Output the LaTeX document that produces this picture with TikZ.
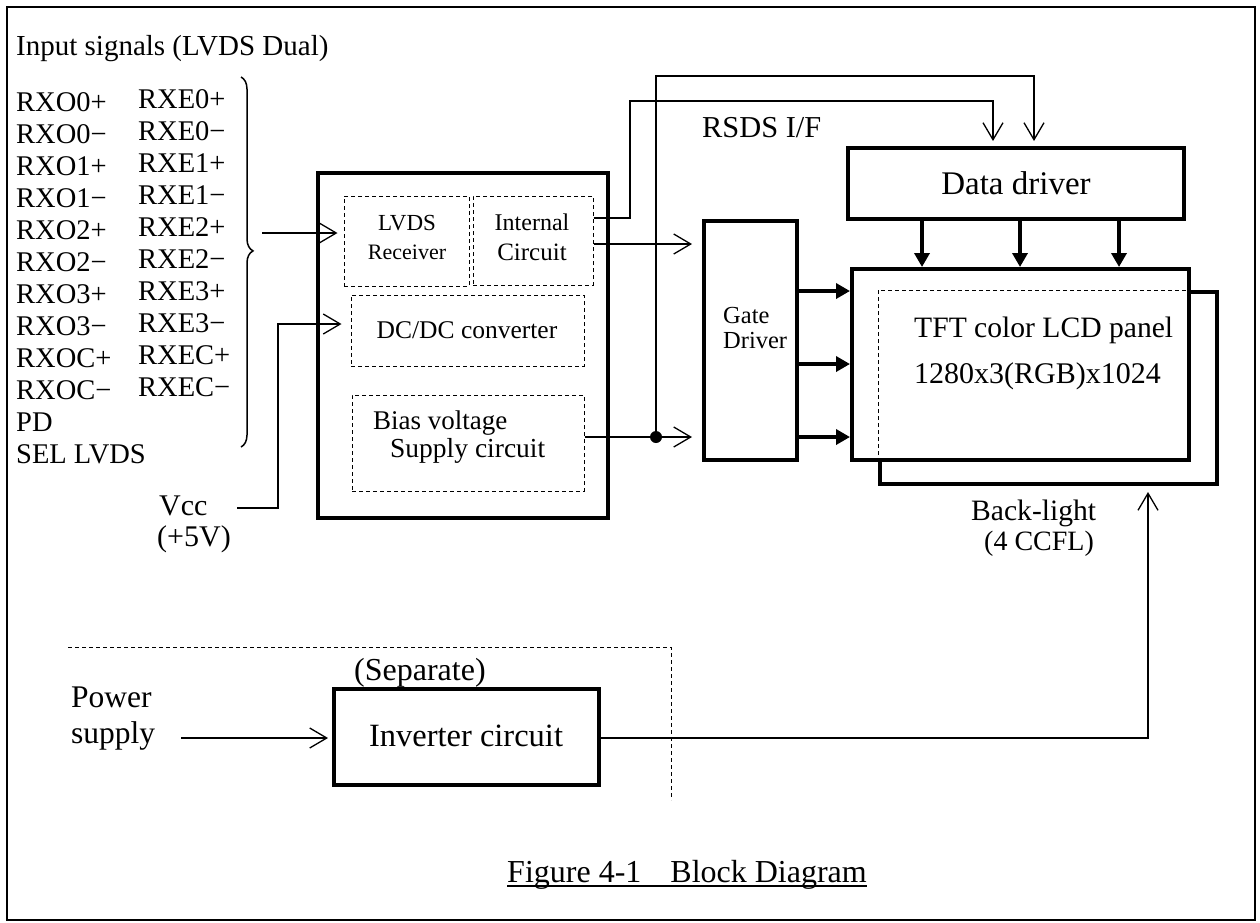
\documentclass[tikz,border=0pt]{standalone}
\usepackage{fontspec}
\setmainfont{Liberation Serif}
\usetikzlibrary{arrows.meta,decorations.pathreplacing,calc}
\newcommand\fsz[1]{\fontsize{#1}{#1}\selectfont}
\begin{document}
\begin{tikzpicture}[x=1pt,y=-1pt,
  lbl/.style={inner sep=0pt, font=\fsz{29}},
  tbox/.style={draw, line width=4pt, inner sep=0pt, fill=white},
  dbox/.style={draw, line width=1pt, dash pattern=on 4pt off 3pt, inner sep=0pt},
  conn/.style={line width=1.3pt},
  oarr/.style={conn, -{Straight Barb[length=17pt,width=20pt]}},
  tarr/.style={line width=4pt, -{Triangle[length=14pt,width=15pt]}},
  dline/.style={line width=1pt, dash pattern=on 4pt off 3pt}]
\useasboundingbox (0,0) rectangle (1260,922);
\draw[line width=2.5pt] (7,7) rectangle (1255,920);

% input signal list
\node[lbl, anchor=base west] (title) at (16,55) {Input signals (LVDS Dual)};
\foreach \t [count=\i] in {RXO0+,RXO0−,RXO1+,RXO1−,RXO2+,RXO2−,RXO3+,RXO3−,RXOC+,RXOC−,PD,SEL LVDS}
  \node[lbl, font=\fsz{28.5}, anchor=base west] (o\i) at (16,{111+32*(\i-1)}) {\t};
\foreach \t [count=\i] in {RXE0+,RXE0−,RXE1+,RXE1−,RXE2+,RXE2−,RXE3+,RXE3−,RXEC+,RXEC−}
  \node[lbl, font=\fsz{28.5}, anchor=base west] (e\i) at (138,{108+32*(\i-1)}) {\t};
\coordinate (br1) at (241,77);
\coordinate (br2) at (241,447);
\draw[line width=1.5pt, decorate, decoration={brace, amplitude=12pt, aspect=0.47}] (br1) -- (br2);

% controller block
\node[tbox, minimum width=290pt, minimum height=345pt] (main) at (463,345.5) {};
\node[dbox, minimum width=125pt, minimum height=90pt] (lvds) at (406.5,241) {};
\node[dbox, minimum width=120pt, minimum height=89pt] (int) at (533,240.5) {};
\node[dbox, minimum width=233pt, minimum height=71pt] (dc) at (467.5,330.5) {};
\node[dbox, minimum width=232pt, minimum height=96pt] (bias) at (468,443) {};
\node[lbl, font=\fsz{23}, anchor=base] (tlvds) at (407,230) {LVDS};
\node[lbl, font=\fsz{22}, anchor=base] (trcv) at (407,259) {Receiver};
\node[lbl, font=\fsz{24}, anchor=base] (tint) at (532,230) {Internal};
\node[lbl, font=\fsz{25}, anchor=base] (tcir) at (532,260) {Circuit};
\node[lbl, font=\fsz{25.5}, anchor=base] (tdc) at (467,338) {DC/DC converter};
\node[lbl, font=\fsz{27}, anchor=base west] (tb1) at (373,429) {Bias voltage};
\node[lbl, font=\fsz{27.5}, anchor=base west] (tb2) at (390,457) {Supply circuit};

% Vcc
\node[lbl, font=\fsz{30}, anchor=base west] (tvcc) at (159,515) {Vcc};
\node[lbl, font=\fsz{30}, anchor=base west] (tv5) at (157,546) {(+5V)};

% gate driver
\node[tbox, minimum width=93pt, minimum height=239pt] (gate) at (750.5,340.5) {};
\node[lbl, font=\fsz{24.5}, anchor=base west] (tg1) at (723,323) {Gate};
\node[lbl, font=\fsz{24.5}, anchor=base west] (tg2) at (723,348) {Driver};

% data driver
\node[tbox, minimum width=336pt, minimum height=71pt] (data) at (1016,183.5) {};
\node[lbl, font=\fsz{33}, anchor=base] (tdata) at (1016,194) {Data driver};
\node[lbl, font=\fsz{30.4}, anchor=base west] (trsds) at (702,137) {RSDS I/F};

% backlight and panel
\node[draw, line width=4pt, inner sep=0pt, minimum width=337pt, minimum height=192pt] (bl) at (1048.5,388) {};
\node[tbox, minimum width=337pt, minimum height=191pt] (panel) at (1020.5,364.5) {};
\draw[dline] (bl.north west |- panel.south) -- (bl.north west) -- (bl.north west -| panel.east);
\node[lbl, font=\fsz{29.6}, anchor=base west] (tp1) at (914,337) {TFT color LCD panel};
\node[lbl, font=\fsz{30}, anchor=base west] (tp2) at (914,383) {1280x3(RGB)x1024};
\node[lbl, font=\fsz{29.6}, anchor=base west] (tbl1) at (971,520) {Back-light};
\node[lbl, font=\fsz{28}, anchor=base west] (tbl2) at (984,550) {(4 CCFL)};

% inverter
\draw[dline] (68,647) -- (671,647) -- (671,800);
\node[tbox, minimum width=265pt, minimum height=96pt] (inv) at (466.5,737) {};
\node[lbl, font=\fsz{32.5}, anchor=base] (tinv) at (466,746) {Inverter circuit};
\node[lbl, font=\fsz{32}, anchor=base west] (tsep) at (354,680) {(Separate)};
\node[lbl, font=\fsz{31.5}, anchor=base west] (tpw1) at (71,707) {Power};
\node[lbl, font=\fsz{31.5}, anchor=base west] (tpw2) at (71,743) {supply};

% caption
\node[lbl, font=\fsz{32}, anchor=base west] (cap) at (507,882) {Figure 4-1\hspace{29pt}Block Diagram};
\draw[line width=1.5pt] ($(cap.base west)+(0,4)$) -- ($(cap.base east)+(0,4)$);

% connectors
\coordinate (bt) at (262,233);
\draw[oarr, shorten >=6pt] (bt) -- (bt -| lvds.west);
\coordinate (vcc) at (237,508);
\coordinate (vin) at (278,324);
\draw[oarr, shorten >=9pt] (vcc) -- (vcc -| vin) -- (vin) -- (vin -| dc.west);

\coordinate (a1) at (630,218);
\coordinate (a2) at (630,101);
\coordinate (a3) at (993,101);
\draw[oarr, shorten >=5pt] (a1 -| int.east) -- (a1) -- (a2) -- (a3) -- (a3 |- data.north);
\coordinate (g1) at (600,244);
\draw[oarr, shorten >=10pt] (g1 -| int.east) -- (g1 -| gate.west);

\node[circle, fill, inner sep=0pt, minimum size=12pt] (dot) at (656,437) {};
\draw[conn] (dot -| bias.east) -- (dot.center);
\draw[oarr, shorten >=10pt] (dot.center) -- (dot -| gate.west);
\coordinate (b1) at (656,76);
\coordinate (b2) at (1034,76);
\draw[oarr, shorten >=5pt] (dot.center) -- (b1) -- (b2) -- (b2 |- data.north);

\foreach \y in {291,364,437} {
  \coordinate (gy) at (0,\y);
  \draw[tarr] (gy -| gate.east) -- (gy -| panel.west);
}
\foreach \x in {922,1020,1119} {
  \coordinate (dx) at (\x,0);
  \draw[tarr] (dx |- data.south) -- (dx |- panel.north);
}

\coordinate (pw) at (181,738);
\draw[oarr, shorten >=4pt] (pw) -- (pw -| inv.west);
\coordinate (c1) at (1148,738);
\draw[oarr, shorten >=6pt] (c1 -| inv.east) -- (c1) -- (c1 |- bl.south);
\end{tikzpicture}
\end{document}
